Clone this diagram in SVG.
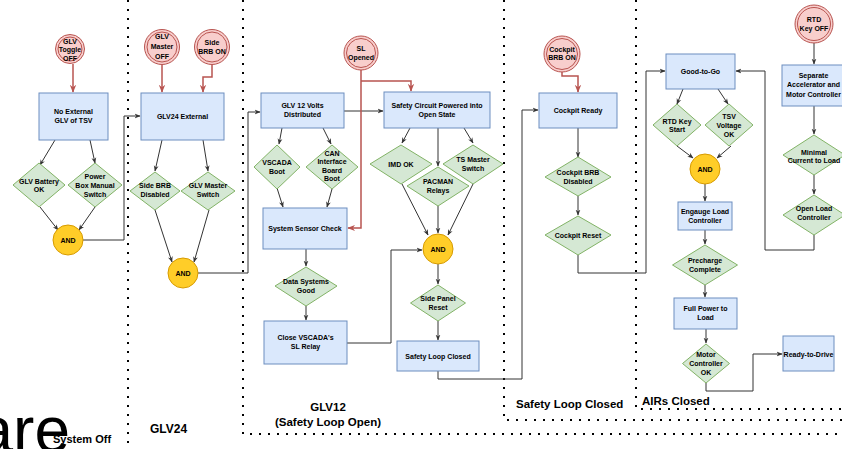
<svg xmlns="http://www.w3.org/2000/svg" width="842" height="449" viewBox="0 0 842 449">
<style>
.box{fill:#dae8fc;stroke:#6c8ebf;stroke-width:1}
.dia{fill:#d5e8d4;stroke:#82b366;stroke-width:1}
.and{fill:#ffcd28;stroke:#d79b00;stroke-width:1}
.ev{fill:#f8cecc;stroke:#b85450;stroke-width:1}
.t{font-family:"Liberation Sans",Arial,Helvetica,sans-serif;font-size:7px;font-weight:bold;text-anchor:middle;fill:#000}
.c{fill:none;stroke:#333;stroke-width:1;marker-end:url(#ah)}
.r{fill:none;stroke:#b85450;stroke-width:1.5;marker-end:url(#ar)}
.dot{fill:none;stroke:#000;stroke-width:2;stroke-dasharray:2 7}
.lbl{font-family:"Liberation Sans",Arial,Helvetica,sans-serif;font-weight:bold;fill:#000}
</style>
<defs>
<marker id="ah" viewBox="0 0 10 10" refX="9" refY="5" markerWidth="6" markerHeight="6" orient="auto" markerUnits="userSpaceOnUse"><path d="M0,1 L10,5 L0,9 L3,5 z" fill="#333"/></marker>
<marker id="ar" viewBox="0 0 10 10" refX="9" refY="5" markerWidth="8" markerHeight="8" orient="auto" markerUnits="userSpaceOnUse"><path d="M0,1 L10,5 L0,9 L3,5 z" fill="#b85450"/></marker>
</defs>
<rect width="842" height="449" fill="#fff"/>

<g id="regions">
<path class="dot" d="M128,0 V449"/>
<path class="dot" d="M243,0 V434 H842"/>
<path class="dot" d="M504,0 V420 H842"/>
<path class="dot" d="M636,0 V409 H842"/>
</g>

<g id="labels">
<text x="70" y="452" font-family="'Liberation Sans',Arial,sans-serif" font-size="64" text-anchor="end" fill="#000">are</text>
<text class="lbl" x="53" y="443" font-size="11">System Off</text>
<text class="lbl" x="150" y="433" font-size="12">GLV24</text>
<text class="lbl" x="328" y="411" font-size="11.5" text-anchor="middle">GLV12</text>
<text class="lbl" x="328" y="426" font-size="11.5" text-anchor="middle">(Safety Loop Open)</text>
<text class="lbl" x="516" y="408" font-size="11.5">Safety Loop Closed</text>
<text class="lbl" x="642" y="405" font-size="11.5">AIRs Closed</text>
</g>

<g id="connectors">
<path class="r" d="M73,64 V92"/>
<path class="c" d="M55,140 L40,165"/>
<path class="c" d="M90,140 L95,163"/>
<path class="c" d="M40,207 L58,230"/>
<path class="c" d="M95,207 L79,230"/>
<path class="c" d="M83,240 H124 V116 H140"/>
<path class="r" d="M162,65 V92"/>
<path class="r" d="M212,65 V77 H203 V92"/>
<path class="c" d="M162,140 L155,171"/>
<path class="c" d="M203,140 L208,171"/>
<path class="c" d="M155,210 L172,262"/>
<path class="c" d="M209,210 L194,262"/>
<path class="c" d="M198,273 H248 V112 H260"/>
<path class="c" d="M344,111 H383"/>
<path class="r" d="M361,70 V228 H348"/>
<path class="r" d="M361,81 H411 V91"/>
<path class="c" d="M282,128 L279,144"/>
<path class="c" d="M323,128 L331,144"/>
<path class="c" d="M277,188 L283,207"/>
<path class="c" d="M332,189 L327,207"/>
<path class="c" d="M306,249 V266"/>
<path class="c" d="M306,306 V320"/>
<path class="c" d="M347,343 H391 V250 H422"/>
<path class="c" d="M410,128 L402,143"/>
<path class="c" d="M438,128 V166"/>
<path class="c" d="M464,128 L473,143"/>
<path class="c" d="M402,184 L428,235"/>
<path class="c" d="M438,206 V233"/>
<path class="c" d="M473,184 L448,235"/>
<path class="c" d="M438,264 V284"/>
<path class="c" d="M438,321 V340"/>
<path class="c" d="M438,371 V379 H522 V110 H538"/>
<path class="r" d="M562,72 V76 H578 V92"/>
<path class="c" d="M578,128 V157"/>
<path class="c" d="M578,196 V215"/>
<path class="c" d="M578,255 V273 H646 V71 H665"/>
<path class="c" d="M683,89 L677,104"/>
<path class="c" d="M718,89 L728,104"/>
<path class="c" d="M677,146 L693,158"/>
<path class="c" d="M731,146 L717,158"/>
<path class="c" d="M705,184 V201"/>
<path class="c" d="M705,230 V244"/>
<path class="c" d="M705,285 V297"/>
<path class="c" d="M706,329 V343"/>
<path class="c" d="M706,383 V391 H753 V354 H782"/>
<path class="c" d="M814,43 V64"/>
<path class="c" d="M814,106 V134"/>
<path class="c" d="M814,175 V194"/>
<path class="c" d="M814,235 V250 H765 V71 H736"/>
</g>

<g id="glv-toggle-off"><circle class="ev" cx="70" cy="49" r="14.5"/><circle class="ev" cx="70" cy="49" r="12"/><text class="t" x="70"><tspan x="70" y="43.5">GLV</tspan><tspan x="70" y="52">Toggle</tspan><tspan x="70" y="60.5">OFF</tspan></text></g>
<g id="no-external-glv"><rect class="box" x="39" y="93" width="69" height="47"/><text class="t"><tspan x="73.5" y="113.5">No External</tspan><tspan x="73.5" y="122.5">GLV of TSV</tspan></text></g>
<g id="glv-battery-ok"><path class="dia" d="M39,163 L65,185 L39,207 L13,185 Z"/><text class="t"><tspan x="39" y="183.5">GLV Battery</tspan><tspan x="39" y="192">OK</tspan></text></g>
<g id="power-box-switch"><path class="dia" d="M95,163 L122,185 L95,207 L68,185 Z"/><text class="t"><tspan x="95" y="178.5">Power</tspan><tspan x="95" y="187.5">Box Manual</tspan><tspan x="95" y="196.5">Switch</tspan></text></g>
<g id="and-1"><circle class="and" cx="68" cy="240" r="15"/><text class="t" x="68" y="242.5" font-weight="normal">AND</text></g>

<g id="glv-master-off"><circle class="ev" cx="162" cy="47" r="17.5"/><circle class="ev" cx="162" cy="47" r="15"/><text class="t"><tspan x="162" y="38.5">GLV</tspan><tspan x="162" y="49">Master</tspan><tspan x="162" y="59">OFF</tspan></text></g>
<g id="side-brb-on"><circle class="ev" cx="212" cy="47" r="17.5"/><circle class="ev" cx="212" cy="47" r="15"/><text class="t"><tspan x="212" y="44.5">Side</tspan><tspan x="212" y="53.5">BRB ON</tspan></text></g>
<g id="glv24-external"><rect class="box" x="141" y="93" width="83" height="47"/><text class="t" x="182.5" y="118.5">GLV24 External</text></g>
<g id="side-brb-disabled"><path class="dia" d="M155,172 L180,191 L155,210 L130,191 Z"/><text class="t"><tspan x="155" y="187.5">Side BRB</tspan><tspan x="155" y="196.5">Disabled</tspan></text></g>
<g id="glv-master-switch"><path class="dia" d="M208,172 L235,191 L208,210 L181,191 Z"/><text class="t"><tspan x="208" y="187.5">GLV Master</tspan><tspan x="208" y="196.5">Switch</tspan></text></g>
<g id="and-2"><circle class="and" cx="183" cy="273" r="15"/><text class="t" x="183" y="275.5">AND</text></g>

<g id="glv12-distributed"><rect class="box" x="261" y="93" width="83" height="35"/><text class="t"><tspan x="302.5" y="107.5">GLV 12 Volts</tspan><tspan x="302.5" y="116.5">Distributed</tspan></text></g>
<g id="sl-opened"><circle class="ev" cx="361" cy="53" r="17"/><circle class="ev" cx="361" cy="53" r="14.5"/><text class="t"><tspan x="361" y="50.5">SL</tspan><tspan x="361" y="60">Opened</tspan></text></g>
<g id="safety-circuit"><rect class="box" x="384" y="92" width="106" height="36"/><text class="t"><tspan x="437" y="107.5">Safety Circuit Powered into</tspan><tspan x="437" y="116.5">Open State</tspan></text></g>
<g id="vscada-boot"><path class="dia" d="M277,145 L300,167 L277,189 L254,167 Z"/><text class="t"><tspan x="277" y="164.5">VSCADA</tspan><tspan x="277" y="173.5">Boot</tspan></text></g>
<g id="can-boot"><path class="dia" d="M332,145 L358,167 L332,189 L306,167 Z"/><text class="t"><tspan x="332" y="155.5">CAN</tspan><tspan x="332" y="164">Interface</tspan><tspan x="332" y="172.5">Board</tspan><tspan x="332" y="181">Boot</tspan></text></g>
<g id="system-sensor-check"><rect class="box" x="263" y="208" width="84" height="41"/><text class="t" x="305" y="230.5">System Sensor Check</text></g>
<g id="data-systems-good"><path class="dia" d="M306,267 L337,286 L306,306 L275,286 Z"/><text class="t"><tspan x="306" y="283.5">Data Systems</tspan><tspan x="306" y="292.5">Good</tspan></text></g>
<g id="close-vscada-relay"><rect class="box" x="264" y="321" width="83" height="43"/><text class="t"><tspan x="305.5" y="339.5">Close VSCADA's</tspan><tspan x="305.5" y="349">SL Relay</tspan></text></g>
<g id="imd-ok"><path class="dia" d="M401,145 L432,164 L401,184 L370,164 Z"/><text class="t" x="401" y="166.5">IMD OK</text></g>
<g id="pacman-relays"><path class="dia" d="M438,167 L469,186 L438,206 L407,186 Z"/><text class="t"><tspan x="438" y="183.5">PACMAN</tspan><tspan x="438" y="192.5">Relays</tspan></text></g>
<g id="ts-master-switch"><path class="dia" d="M473,145 L503,164 L473,184 L443,164 Z"/><text class="t"><tspan x="473" y="161.5">TS Master</tspan><tspan x="473" y="170.5">Switch</tspan></text></g>
<g id="and-3"><circle class="and" cx="438" cy="249" r="15"/><text class="t" x="438" y="251.5">AND</text></g>
<g id="side-panel-reset"><path class="dia" d="M438,285 L465.5,303 L438,321 L410.5,303 Z"/><text class="t"><tspan x="438" y="300.5">Side Panel</tspan><tspan x="438" y="309.5">Reset</tspan></text></g>
<g id="safety-loop-closed"><rect class="box" x="397" y="341" width="82" height="30"/><text class="t" x="438" y="358.5">Safety Loop Closed</text></g>

<g id="cockpit-brb-on"><circle class="ev" cx="562" cy="54" r="18"/><circle class="ev" cx="562" cy="54" r="15.5"/><text class="t"><tspan x="562" y="51.5">Cockpit</tspan><tspan x="562" y="60">BRB ON</tspan></text></g>
<g id="cockpit-ready"><rect class="box" x="539" y="93" width="78" height="35"/><text class="t" x="578" y="112.5">Cockpit Ready</text></g>
<g id="cockpit-brb-disabled"><path class="dia" d="M578,157 L611,177 L578,196 L545,177 Z"/><text class="t"><tspan x="578" y="174.5">Cockpit BRB</tspan><tspan x="578" y="183.5">Disabled</tspan></text></g>
<g id="cockpit-reset"><path class="dia" d="M578,216 L611,235 L578,255 L545,235 Z"/><text class="t" x="578" y="237.5">Cockpit Reset</text></g>

<g id="good-to-go"><rect class="box" x="666" y="54" width="69" height="35"/><text class="t" x="700.5" y="73.5">Good-to-Go</text></g>
<g id="rtd-key-start"><path class="dia" d="M677,104 L701,125 L677,146 L653,125 Z"/><text class="t"><tspan x="677" y="123.5">RTD Key</tspan><tspan x="677" y="132">Start</tspan></text></g>
<g id="tsv-voltage-ok"><path class="dia" d="M729,104 L753,125 L729,146 L705,125 Z"/><text class="t"><tspan x="729" y="118.5">TSV</tspan><tspan x="729" y="127.5">Voltage</tspan><tspan x="729" y="136.5">OK</tspan></text></g>
<g id="and-4"><circle class="and" cx="705" cy="169" r="15"/><text class="t" x="705" y="171.5">AND</text></g>
<g id="engauge-load"><rect class="box" x="678" y="202" width="54" height="28"/><text class="t"><tspan x="705" y="213.5">Engauge Load</tspan><tspan x="705" y="222.5">Controller</tspan></text></g>
<g id="precharge-complete"><path class="dia" d="M705,245 L737.5,265 L705,285 L672.5,265 Z"/><text class="t"><tspan x="705" y="262.5">Precharge</tspan><tspan x="705" y="271.5">Complete</tspan></text></g>
<g id="full-power"><rect class="box" x="674" y="298" width="63" height="31"/><text class="t"><tspan x="705.5" y="310.5">Full Power to</tspan><tspan x="705.5" y="319.5">Load</tspan></text></g>
<g id="motor-controller-ok"><path class="dia" d="M706,344 L729.5,363.5 L706,383 L682.5,363.5 Z"/><text class="t"><tspan x="706" y="356.5">Motor</tspan><tspan x="706" y="365.5">Controller</tspan><tspan x="706" y="374.5">OK</tspan></text></g>
<g id="ready-to-drive"><rect class="box" x="783" y="336" width="51" height="35"/><text class="t" x="808.5" y="356.5">Ready-to-Drive</text></g>

<g id="rtd-key-off"><circle class="ev" cx="814" cy="24" r="19"/><circle class="ev" cx="814" cy="24" r="16.5"/><text class="t"><tspan x="814" y="21.5">RTD</tspan><tspan x="814" y="30.5">Key OFF</tspan></text></g>
<g id="separate-accelerator"><rect class="box" x="782" y="65" width="62" height="41"/><text class="t"><tspan x="813.5" y="77.5">Separate</tspan><tspan x="813.5" y="87">Accelerator and</tspan><tspan x="813.5" y="96.5">Motor Controller</tspan></text></g>
<g id="minimal-current"><path class="dia" d="M814,135 L845,155 L814,175 L783,155 Z"/><text class="t"><tspan x="814" y="154.5">Minimal</tspan><tspan x="814" y="163">Current to Load</tspan></text></g>
<g id="open-load-controller"><path class="dia" d="M814,195 L845,215 L814,235 L783,215 Z"/><text class="t"><tspan x="814" y="210.5">Open Load</tspan><tspan x="814" y="219.5">Controller</tspan></text></g>
</svg>
